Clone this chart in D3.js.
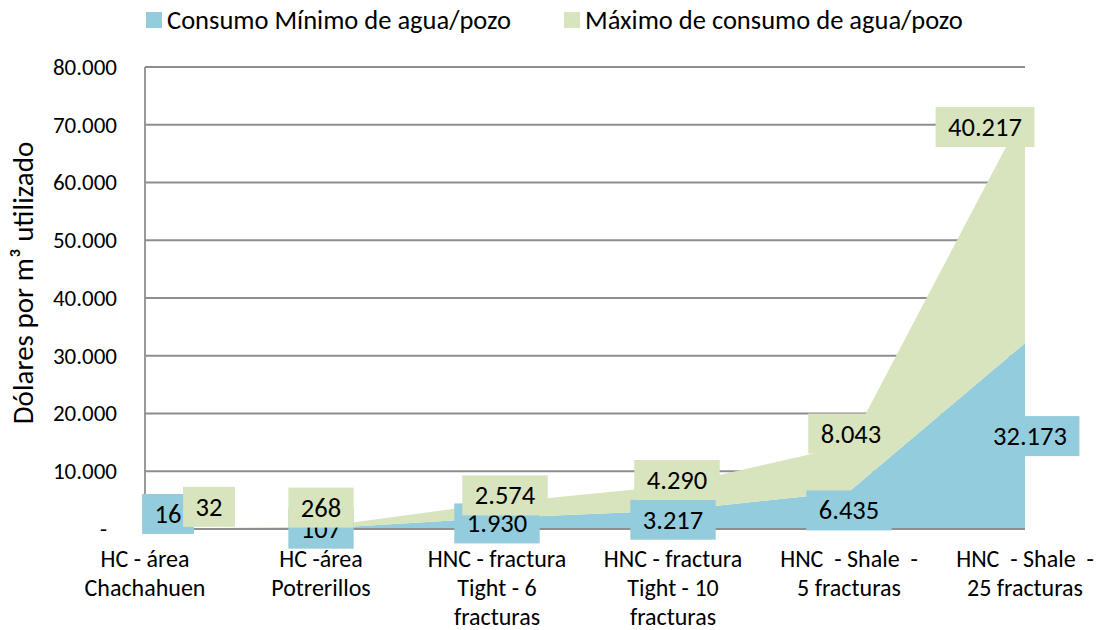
<!DOCTYPE html>
<html>
<head>
<meta charset="utf-8">
<script src="https://cdn.jsdelivr.net/npm/d3@7"></script>
<style>
  body { margin: 0; background: #fff; }
  text { font-family: Carlito, Lato, sans-serif; fill: #000; }
</style>
</head>
<body>
<svg id="chart" width="1099" height="630"></svg>
<script>
// ---- data ----
const categories = [
  "HC - área Chachahuen",
  "HC -área Potrerillos",
  "HNC - fractura Tight - 6 fracturas",
  "HNC - fractura Tight - 10 fracturas",
  "HNC  - Shale  - 5 fracturas",
  "HNC  - Shale  - 25 fracturas"
];
const categoryLines = [
  ["HC - área", "Chachahuen"],
  ["HC -área", "Potrerillos"],
  ["HNC - fractura", "Tight - 6", "fracturas"],
  ["HNC - fractura", "Tight - 10", "fracturas"],
  ["HNC  - Shale  -", "5 fracturas"],
  ["HNC  - Shale  -", "25 fracturas"]
];
const consumoMinimo = [16, 107, 1930, 3217, 6435, 32173];
const consumoMaximo = [32, 268, 2574, 4290, 8043, 40217];
const seriesNames = ["Consumo Mínimo de agua/pozo", "Máximo de consumo de agua/pozo"];
const yTicks = [0, 10000, 20000, 30000, 40000, 50000, 60000, 70000, 80000];
const yTitle = "Dólares por m³ utilizado";

// ---- layout ----
const W = 1099, H = 630;
const plot = { left: 145, right: 1025, top: 67, bottom: 529 };
const colors = ["#93CDDD", "#D7E4BD"];
// label offsets (px) from the middle of each stacked band
const minLabelNudge = [[23, -15], [0, 0], [0, 0], [0, 0], [0, 0], [5, 0]];
const maxLabelNudge = [[64, -22], [0, -20], [8, -15], [4, -18], [2, -35], [-40, -100]];

const locale = d3.formatLocale({ decimal: ",", thousands: ".", grouping: [3], currency: ["$", ""] });
const fmt = locale.format(",.0f");

const svg = d3.select("#chart");

const x = d3.scalePoint().domain(categories).range([plot.left, plot.right]);
const y = d3.scaleLinear().domain([0, 80000]).range([plot.bottom, plot.top]);

const rows = categories.map((c, i) => ({ cat: c, min: consumoMinimo[i], max: consumoMaximo[i] }));
const stacked = d3.stack().keys(["min", "max"])(rows);

// gridlines
svg.append("g")
  .selectAll("line")
  .data(yTicks.filter(t => t > 0))
  .join("line")
  .attr("x1", plot.left).attr("x2", plot.right)
  .attr("y1", d => y(d)).attr("y2", d => y(d))
  .attr("stroke", "#8e8e8e").attr("stroke-width", 1.8);

// stacked areas
const area = d3.area()
  .x(d => x(d.data.cat))
  .y0(d => y(d[0]))
  .y1(d => y(d[1]));

svg.append("g")
  .selectAll("path")
  .data(stacked)
  .join("path")
  .attr("d", area)
  .attr("fill", (d, i) => colors[i]);

// axis lines
svg.append("line")
  .attr("x1", plot.left).attr("x2", plot.left)
  .attr("y1", plot.top).attr("y2", plot.bottom)
  .attr("stroke", "#8e8e8e").attr("stroke-width", 1.8);
svg.append("line")
  .attr("x1", plot.left).attr("x2", plot.right)
  .attr("y1", plot.bottom).attr("y2", plot.bottom)
  .attr("stroke", "#8e8e8e").attr("stroke-width", 1.8);

// y axis tick labels
const yAxis = d3.axisLeft(y)
  .tickValues(yTicks)
  .tickSize(0)
  .tickPadding(0)
  .tickFormat(d => d === 0 ? "-" : fmt(d));
const yg = svg.append("g")
  .attr("transform", `translate(${plot.left - 28},0)`)
  .call(yAxis);
yg.select(".domain").remove();
yg.selectAll("text")
  .attr("font-size", 23)
  .attr("font-family", "Carlito, Lato, sans-serif")
  .attr("fill", "#000")
  .attr("dx", d => d === 0 ? -10 : 0);

// y axis title
svg.append("text")
  .attr("transform", `translate(33,283) rotate(-90)`)
  .attr("text-anchor", "middle")
  .attr("font-size", 29)
  .text(yTitle);

// x axis category labels
const xg = svg.append("g");
categories.forEach((c, i) => {
  const t = xg.append("text")
    .attr("x", x(c))
    .attr("y", 567)
    .attr("text-anchor", "middle")
    .attr("font-size", 24)
    .style("white-space", "pre");
  categoryLines[i].forEach((line, j) => {
    t.append("tspan")
      .attr("x", x(c))
      .attr("dy", j === 0 ? 0 : 29)
      .text(line);
  });
});

// data labels with filled boxes
function drawLabels(layer, idx, nudges) {
  const g = svg.append("g");
  layer.forEach((d, i) => {
    const cx = x(d.data.cat) + nudges[i][0];
    const cy = y((d[0] + d[1]) / 2) + nudges[i][1];
    const lg = g.append("g");
    const rect = lg.append("rect").attr("fill", colors[idx]);
    const txt = lg.append("text")
      .attr("x", cx).attr("y", cy)
      .attr("text-anchor", "middle")
      .attr("dominant-baseline", "central")
      .attr("font-size", 26.5)
      .text(fmt(d.data[idx === 0 ? "min" : "max"]));
    const w = txt.node().getComputedTextLength() + 25;
    rect.attr("x", cx - w / 2).attr("y", cy - 20).attr("width", w).attr("height", 40);
  });
}
drawLabels(stacked[0], 0, minLabelNudge);
drawLabels(stacked[1], 1, maxLabelNudge);

// legend
const legend = svg.append("g");
const legendItems = [{ x: 146, name: seriesNames[0] }, { x: 564, name: seriesNames[1] }];
legendItems.forEach((it, i) => {
  legend.append("rect")
    .attr("x", it.x).attr("y", 12)
    .attr("width", 16).attr("height", 16)
    .attr("fill", colors[i]);
  legend.append("text")
    .attr("x", it.x + 21).attr("y", 29)
    .attr("font-size", 26.5)
    .text(it.name);
});
</script>
</body>
</html>
